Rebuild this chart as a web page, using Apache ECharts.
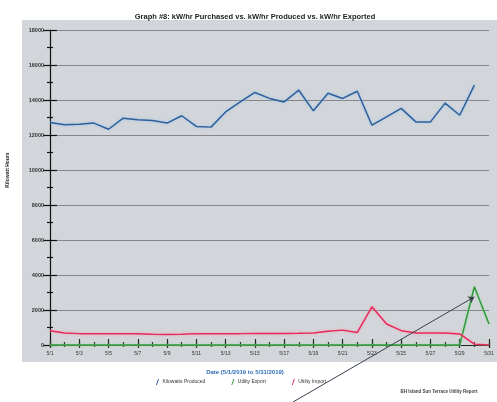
<!DOCTYPE html>
<html>
<head>
<meta charset="utf-8">
<script src="https://cdn.jsdelivr.net/npm/echarts@6/dist/echarts.min.js"></script>
<style>
  html, body { margin: 0; padding: 0; background: #fff; }
  #chart { width: 497px; height: 402px; }
</style>
</head>
<body>
<div id="chart"></div>
<script>
const days = ['5/1', '5/2', '5/3', '5/4', '5/5', '5/6', '5/7', '5/8', '5/9', '5/10',
  '5/11', '5/12', '5/13', '5/14', '5/15', '5/16', '5/17', '5/18', '5/19', '5/20',
  '5/21', '5/22', '5/23', '5/24', '5/25', '5/26', '5/27', '5/28', '5/29', '5/30', '5/31']
const produced = [12720, 12580, 12620, 12680, 12330, 12960, 12870, 12830, 12680, 13100,
  12490, 12450, 13320, 13890, 14430, 14090, 13890, 14560, 13380, 14390,
  14090, 14500, 12560, 13040, 13520, 12750, 12750, 13820, 13130, 14850, null]
const exported = [0, 0, 0, 0, 0, 0, 0, 0, 0, 0, 0, 0, 0, 0, 0, 0, 0, 0, 0, 0,
  0, 0, 0, 0, 0, 0, 0, 0, 0, 3330, 1200]
const imported = [820, 680, 650, 650, 650, 650, 640, 610, 600, 610, 650, 650, 650, 650, 660,
  660, 660, 670, 685, 780, 850, 720, 2180, 1200, 820, 690, 680, 680, 630, 50, 0]
const seriesNames = ['Kilowatts Produced', 'Utility Export', 'Utility Import']

const chart = echarts.init(document.getElementById('chart'), null, { renderer: 'canvas' })

// extra axes only draw ticks, so the ticks cross the axis line like the original
function tickAxis(interval, len, inside, main) {
  return {
    type: 'category',
    data: days,
    boundaryGap: false,
    position: 'bottom',
    axisLine: { show: main, lineStyle: { color: '#1d2a1d', width: 1.2 } },
    axisTick: { show: true, interval, length: len, inside, lineStyle: { color: '#1d2a1d', width: 1.2 } },
    axisLabel: { show: main, interval: 1, fontSize: 5, color: '#333', margin: 6, fontFamily: 'Liberation Sans' },
    splitLine: { show: false },
  }
}

function valueAxis(inside, main) {
  return {
    type: 'value',
    min: 0,
    max: 18000,
    interval: 2000,
    position: 'left',
    axisLine: { show: main, lineStyle: { color: '#111', width: 1.2 } },
    axisTick: { show: true, length: 7, inside, lineStyle: { color: '#111', width: 1.2 } },
    minorTick: { show: true, splitNumber: 2, length: 3, lineStyle: { color: '#111', width: 1.2 } },
    axisLabel: {
      show: main, fontSize: 5.5, color: '#333', margin: 6, fontFamily: 'Liberation Sans', fontWeight: 'bold',
      formatter: (v) => String(v),
    },
    splitLine: { show: main, lineStyle: { color: '#7a7d82', width: 0.9 } },
  }
}

chart.setOption({
  animation: false,
  backgroundColor: '#fff',
  title: [
    {
      text: 'Graph #8: kW/hr Purchased vs. kW/hr Produced vs. kW/hr Exported',
      left: 250, top: 8, textAlign: 'center',
      textStyle: { fontSize: 7.5, fontWeight: 'bold', color: '#222', fontFamily: 'Liberation Sans' },
    },
    {
      text: 'Date (5/1/2019 to 5/31/2019)',
      left: 240, top: 364, textAlign: 'center',
      textStyle: { fontSize: 6, fontWeight: 'bold', color: '#2f6fb5', fontFamily: 'Liberation Sans' },
    },
    {
      text: 'BH Island Sun Terrace Utility Report',
      left: 434, top: 384, textAlign: 'center',
      textStyle: { fontSize: 4.5, fontWeight: 'bold', color: '#444', fontFamily: 'Liberation Sans' },
    },
  ],
  graphic: [
    { type: 'rect', z: -10, shape: { x: 22, y: 20, width: 475, height: 342 }, style: { fill: '#d2d5d9' } },
    {
      type: 'text', x: 8, y: 170, rotation: Math.PI / 2,
      style: { text: 'Kilowatt Hours', fontSize: 5, fontWeight: 'bold', fill: '#222', align: 'center', verticalAlign: 'middle', fontFamily: 'Liberation Sans' },
    },
  ],
  legend: {
    data: seriesNames,
    left: 151, top: 374,
    itemWidth: 4, itemHeight: 6, itemGap: 26,
    icon: 'path://M0,10 L1.6,10 L5,0 L3.4,0 Z',
    textStyle: { fontSize: 5, color: '#333', fontFamily: 'Liberation Sans', padding: [0, 0, 0, -2] },
  },
  grid: { left: 50, right: 8, top: 30, bottom: 57 },
  xAxis: [
    tickAxis(1, 3, false, true),
    tickAxis(1, 6, true, false),
    tickAxis(0, 2, false, false),
    tickAxis(0, 3, true, false),
  ],
  yAxis: [valueAxis(false, true), valueAxis(true, false)],
  series: [
    {
      name: seriesNames[0], type: 'line', data: produced, symbol: 'none',
      lineStyle: { color: '#2f5f98', width: 1.5, shadowColor: '#9cc6f2', shadowBlur: 3 },
      itemStyle: { color: '#2f5f98' },
    },
    {
      name: seriesNames[1], type: 'line', data: exported, symbol: 'none', clip: false, z: 3,
      lineStyle: { color: '#2f9a3c', width: 1.5, shadowColor: '#a8e0a8', shadowBlur: 2 },
      itemStyle: { color: '#2f9a3c' },
      markLine: {
        silent: true,
        symbol: ['none', 'arrow'],
        symbolSize: 6,
        label: { show: false },
        lineStyle: { color: '#39404e', width: 1, type: 'solid' },
        data: [[{ x: 293, y: 402 }, { coord: ['5/30', 2750] }]],
      },
    },
    {
      name: seriesNames[2], type: 'line', data: imported, symbol: 'none',
      lineStyle: { color: '#e62a5a', width: 1.5, shadowColor: '#f4a9bd', shadowBlur: 3 },
      itemStyle: { color: '#e62a5a' },
    },
  ],
})
</script>
</body>
</html>
